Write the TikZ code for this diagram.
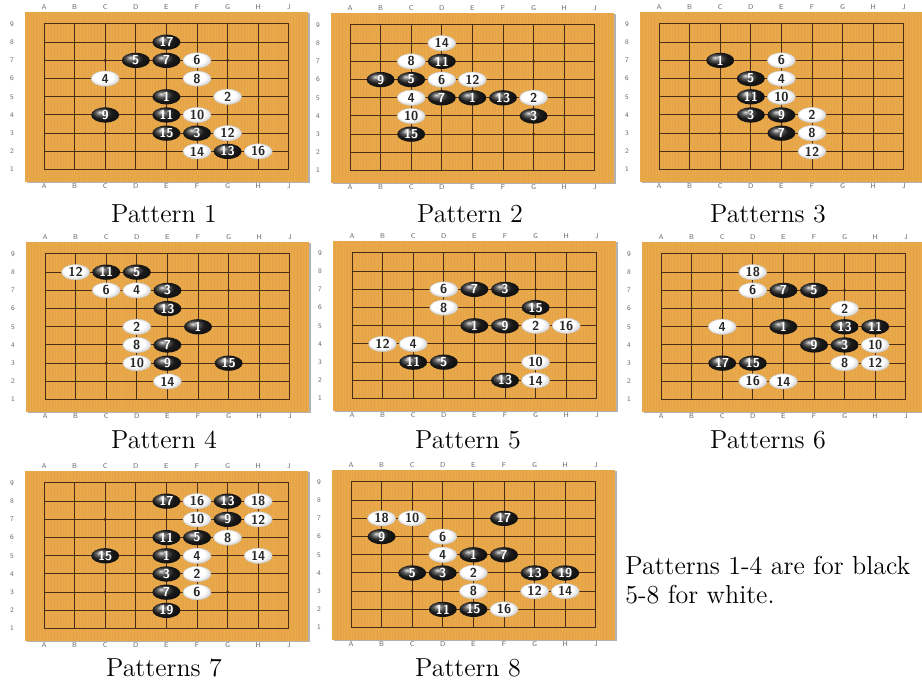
\documentclass[tikz,border=0pt]{standalone}
\usetikzlibrary{shapes.geometric}
\definecolor{boardwood}{HTML}{E9A84A}
\definecolor{woodgrain}{HTML}{C98A30}
\definecolor{gridbrown}{HTML}{4A2E14}
\pgfdeclareradialshading{whiteball}{\pgfpoint{-6bp}{8bp}}{color(0bp)=(white); color(18bp)=(white); color(30bp)=(black!20); color(50bp)=(black!45)}

\begin{document}
\begin{tikzpicture}[
    x=0.5pt, y=-0.5pt,
    gridline/.style={draw=gridbrown, line width=0.5pt},
    grain/.style={draw=woodgrain, line width=0.2pt, opacity=0.15},
    coord/.style={font=\sffamily\fontsize{3.5}{4}\selectfont, text=black!60, inner sep=0},
    blackstone/.style={ellipse, minimum width=14pt, minimum height=7.6pt, inner sep=0,
        ball color=black!85, text=white, font=\sffamily\bfseries\fontsize{6.5}{7}\selectfont},
    whitestone/.style={blackstone, shading=whiteball, draw=black!20, line width=0.2pt, text=black!85},
    caption/.style={font=\fontsize{13}{15}\selectfont, inner sep=0}
]
\useasboundingbox (0,0) rectangle (922,688);

% boards: wood, grid, star points and coordinates
\foreach \bx/\by/\k in {44/24/1, 350/25/2, 659/24/3, 45/254/4, 352/253/5, 661/254/6, 44/483/7, 351/482/8}{
  \begin{scope}[shift={(\bx,\by)}, x=15.3pt, y=-9.1pt]
    \fill[black!30] (-0.55,-0.58) rectangle (8.69,8.74);
    \fill[boardwood] (-0.62,-0.66) rectangle (8.62,8.66);
    \foreach \s in {-0.56,-0.46,...,8.6}
      \draw[grain] (\s,-0.66) -- (\s,8.66);
    \foreach \i in {0,...,8}{
      \draw[gridline] (\i,0) -- (\i,8);
      \draw[gridline] (0,\i) -- (8,\i);
    }
    \foreach \sx/\sy in {2/2,6/2,2/6,6/6}
      \fill[gridbrown] (\sx,\sy) circle (0.8pt);
    \foreach \l [count=\i from 0] in {A,B,C,D,E,F,G,H,J}{
      \node[coord] (b\k-top\l) at (\i,-0.93) {\l};
      \node[coord] (b\k-bot\l) at (\i,8.93) {\l};
    }
    \foreach \i [evaluate=\i as \r using int(9-\i)] in {0,...,8}
      \node[coord] (b\k-row\r) at (-1.05,\i) {\r};
  \end{scope}
}

% Pattern 1
\begin{scope}[shift={(44,24)}, x=15.3pt, y=-9.1pt]
  \foreach \c/\r/\n in {5/5/1, 6/3/3, 4/7/5, 5/7/7, 3/4/9, 5/4/11, 7/2/13, 5/3/15, 5/8/17}
    \node[blackstone] (p1-\n) at (\c-1,9-\r) {\n};
  \foreach \c/\r/\n in {7/5/2, 3/6/4, 6/7/6, 6/6/8, 6/4/10, 7/3/12, 6/2/14, 8/2/16}
    \node[whitestone] (p1-\n) at (\c-1,9-\r) {\n};
\end{scope}

% Pattern 2
\begin{scope}[shift={(350,25)}, x=15.3pt, y=-9.1pt]
  \foreach \c/\r/\n in {5/5/1, 7/4/3, 3/6/5, 4/5/7, 2/6/9, 4/7/11, 6/5/13, 3/3/15}
    \node[blackstone] (p2-\n) at (\c-1,9-\r) {\n};
  \foreach \c/\r/\n in {7/5/2, 3/5/4, 4/6/6, 3/7/8, 3/4/10, 5/6/12, 4/8/14}
    \node[whitestone] (p2-\n) at (\c-1,9-\r) {\n};
\end{scope}

% Pattern 3
\begin{scope}[shift={(659,24)}, x=15.3pt, y=-9.1pt]
  \foreach \c/\r/\n in {3/7/1, 4/4/3, 4/6/5, 5/3/7, 5/4/9, 4/5/11}
    \node[blackstone] (p3-\n) at (\c-1,9-\r) {\n};
  \foreach \c/\r/\n in {6/4/2, 5/6/4, 5/7/6, 6/3/8, 5/5/10, 6/2/12}
    \node[whitestone] (p3-\n) at (\c-1,9-\r) {\n};
\end{scope}

% Pattern 4
\begin{scope}[shift={(45,254)}, x=15.3pt, y=-9.1pt]
  \foreach \c/\r/\n in {6/5/1, 5/7/3, 4/8/5, 5/4/7, 5/3/9, 3/8/11, 5/6/13, 7/3/15}
    \node[blackstone] (p4-\n) at (\c-1,9-\r) {\n};
  \foreach \c/\r/\n in {4/5/2, 4/7/4, 3/7/6, 4/4/8, 4/3/10, 2/8/12, 5/2/14}
    \node[whitestone] (p4-\n) at (\c-1,9-\r) {\n};
\end{scope}

% Pattern 5
\begin{scope}[shift={(352,253)}, x=15.3pt, y=-9.1pt]
  \foreach \c/\r/\n in {5/5/1, 6/7/3, 4/3/5, 5/7/7, 6/5/9, 3/3/11, 6/2/13, 7/6/15}
    \node[blackstone] (p5-\n) at (\c-1,9-\r) {\n};
  \foreach \c/\r/\n in {7/5/2, 3/4/4, 4/7/6, 4/6/8, 7/3/10, 2/4/12, 7/2/14, 8/5/16}
    \node[whitestone] (p5-\n) at (\c-1,9-\r) {\n};
\end{scope}

% Pattern 6
\begin{scope}[shift={(661,254)}, x=15.3pt, y=-9.1pt]
  \foreach \c/\r/\n in {5/5/1, 7/4/3, 6/7/5, 5/7/7, 6/4/9, 8/5/11, 7/5/13, 4/3/15, 3/3/17}
    \node[blackstone] (p6-\n) at (\c-1,9-\r) {\n};
  \foreach \c/\r/\n in {7/6/2, 3/5/4, 4/7/6, 7/3/8, 8/4/10, 8/3/12, 5/2/14, 4/2/16, 4/8/18}
    \node[whitestone] (p6-\n) at (\c-1,9-\r) {\n};
\end{scope}

% Pattern 7
\begin{scope}[shift={(44,483)}, x=15.3pt, y=-9.1pt]
  \foreach \c/\r/\n in {5/5/1, 5/4/3, 6/6/5, 5/3/7, 7/7/9, 5/6/11, 7/8/13, 3/5/15, 5/8/17, 5/2/19}
    \node[blackstone] (p7-\n) at (\c-1,9-\r) {\n};
  \foreach \c/\r/\n in {6/4/2, 6/5/4, 6/3/6, 7/6/8, 6/7/10, 8/7/12, 8/5/14, 6/8/16, 8/8/18}
    \node[whitestone] (p7-\n) at (\c-1,9-\r) {\n};
\end{scope}

% Pattern 8
\begin{scope}[shift={(351,482)}, x=15.3pt, y=-9.1pt]
  \foreach \c/\r/\n in {5/5/1, 4/4/3, 3/4/5, 6/5/7, 2/6/9, 4/2/11, 7/4/13, 5/2/15, 6/7/17, 8/4/19}
    \node[blackstone] (p8-\n) at (\c-1,9-\r) {\n};
  \foreach \c/\r/\n in {5/4/2, 4/5/4, 4/6/6, 5/3/8, 3/7/10, 7/3/12, 8/3/14, 6/2/16, 2/7/18}
    \node[whitestone] (p8-\n) at (\c-1,9-\r) {\n};
\end{scope}

% captions
\node[caption] (cap1) at (164,214) {Pattern 1};
\node[caption] (cap2) at (470,214) {Pattern 2};
\node[caption] (cap3) at (768,214) {Patterns 3};
\node[caption] (cap4) at (164,440) {Pattern 4};
\node[caption] (cap5) at (468,440) {Pattern 5};
\node[caption] (cap6) at (768,440) {Patterns 6};
\node[caption] (cap7) at (164,668) {Patterns 7};
\node[caption] (cap8) at (468,668) {Pattern 8};
\node[caption, anchor=west, align=left, font=\fontsize{13}{14.5}\selectfont] (note) at (625,580)
  {Patterns 1-4 are for black\\5-8 for white.};
\end{tikzpicture}
\end{document}
